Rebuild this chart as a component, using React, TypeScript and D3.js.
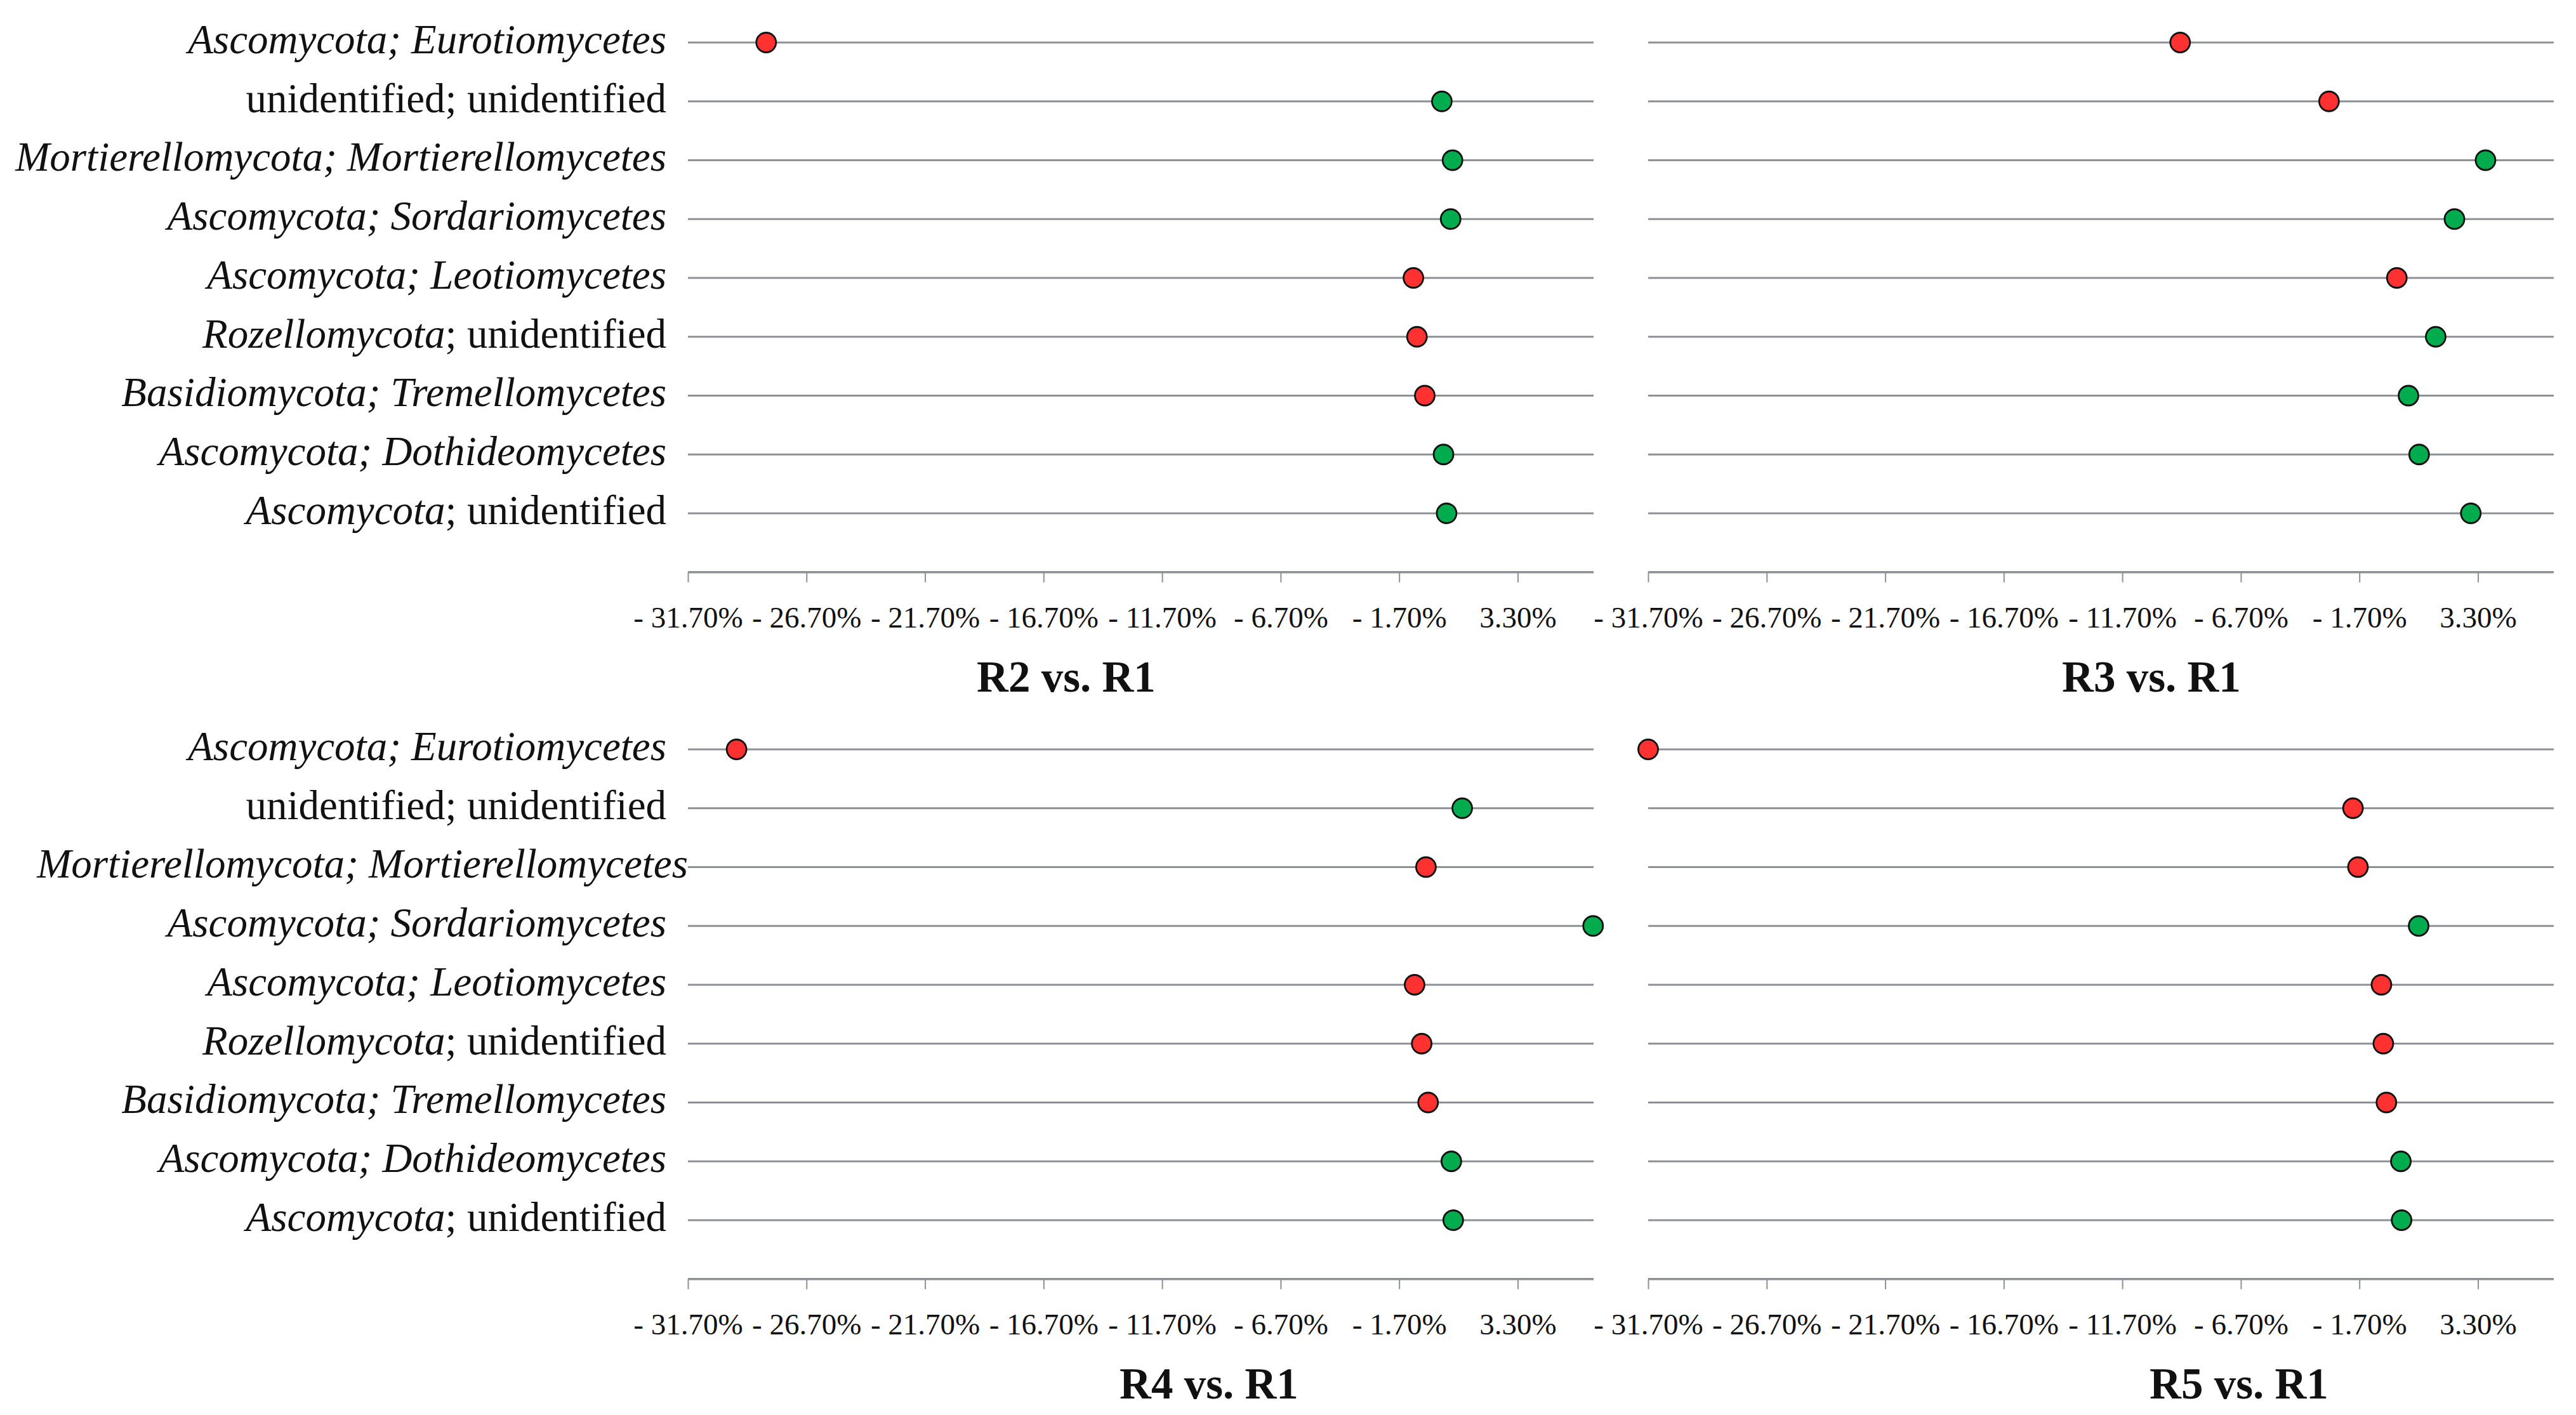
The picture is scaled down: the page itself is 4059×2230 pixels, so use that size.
import { useEffect, useRef } from 'react';
import * as d3 from 'd3';

// taxa, top to bottom
const categories = [
  'Ascomycota; Eurotiomycetes',
  'unidentified; unidentified',
  'Mortierellomycota; Mortierellomycetes',
  'Ascomycota; Sordariomycetes',
  'Ascomycota; Leotiomycetes',
  'Rozellomycota; unidentified',
  'Basidiomycota; Tremellomycetes',
  'Ascomycota; Dothideomycetes',
  'Ascomycota; unidentified',
];
// which half of "phylum; class" is set in italics
const italicPhylum = [true, false, true, true, true, true, true, true, true];
const italicClass = [true, false, true, true, true, false, true, true, false];

// relative change (%) vs R1
const r2vsR1 = [-28.4, 0.1, 0.55, 0.47, -1.1, -0.95, -0.62, 0.17, 0.3];
const r3vsR1 = [-9.26, -2.98, 3.62, 2.31, -0.12, 1.52, 0.37, 0.82, 3.0];
const r4vsR1 = [-29.65, 0.96, -0.57, 6.48, -1.05, -0.75, -0.48, 0.5, 0.58];
const r5vsR1 = [-31.7, -1.97, -1.76, 0.8, -0.77, -0.69, -0.56, 0.05, 0.08];

const tickValues = [-31.7, -26.7, -21.7, -16.7, -11.7, -6.7, -1.7, 3.3];
const tickLabels = ['- 31.70%', '- 26.70%', '- 21.70%', '- 16.70%', '- 11.70%', '- 6.70%', '- 1.70%', '3.30%'];
const xDomain: [number, number] = [-31.7, 6.5];

const W = 4059;
const H = 2230;
const SERIF = '"Liberation Serif", "Times New Roman", serif';
const GRID = '#8d9095';
const RED = '#ff3131';
const GREEN = '#00ac4e';

const panels = [
  { title: 'R2 vs. R1', values: r2vsR1, x0: 1084, x1: 2511, top: 67, titleX: 1680, labels: true, labelShift: 0 },
  { title: 'R3 vs. R1', values: r3vsR1, x0: 2597, x1: 4024, top: 67, titleX: 3390, labels: false, labelShift: 0 },
  { title: 'R4 vs. R1', values: r4vsR1, x0: 1084, x1: 2511, top: 1181, titleX: 1905, labels: true, labelShift: 1 },
  { title: 'R5 vs. R1', values: r5vsR1, x0: 2597, x1: 4024, top: 1181, titleX: 3528, labels: false, labelShift: 0 },
];

export default function App() {
  const svgRef = useRef<SVGSVGElement>(null);

  useEffect(() => {
    if (!svgRef.current) return;
    const svg = d3.select(svgRef.current);
    svg.selectAll('*').remove();

    panels.forEach((p) => {
      const x = d3.scaleLinear().domain(xDomain).range([p.x0, p.x1]);
      const y = d3.scalePoint<string>().domain(categories).range([p.top, p.top + 742]);
      const step = y.step();
      const axisY = p.top + 742 + step;

      const g = svg.append('g');

      // grid lines per category
      g.selectAll('line.row')
        .data(categories)
        .join('line')
        .attr('class', 'row')
        .attr('x1', p.x0)
        .attr('x2', p.x1)
        .attr('y1', (d) => y(d)!)
        .attr('y2', (d) => y(d)!)
        .attr('stroke', GRID)
        .attr('stroke-width', 3);

      // x axis
      const axis = d3
        .axisBottom(x)
        .tickValues(tickValues)
        .tickFormat((_, i) => tickLabels[i])
        .tickSize(16)
        .tickSizeOuter(0)
        .tickPadding(38);
      const ax = g.append('g').attr('transform', `translate(0,${axisY})`).call(axis);
      ax.select('.domain').attr('stroke', GRID).attr('stroke-width', 3.5).attr('d', `M${p.x0},0H${p.x1}`);
      ax.selectAll('.tick line').attr('stroke', GRID).attr('stroke-width', 2);
      ax.selectAll('.tick text')
        .attr('fill', '#111')
        .attr('font-family', SERIF)
        .attr('font-size', 47);

      // dots
      g.selectAll('circle')
        .data(p.values)
        .join('circle')
        .attr('cx', (d) => x(d))
        .attr('cy', (_, i) => y(categories[i])!)
        .attr('r', 15.5)
        .attr('fill', (d) => (d >= 0 ? GREEN : RED))
        .attr('stroke', '#111')
        .attr('stroke-width', 2.8);

      // category labels
      if (p.labels) {
        const lab = g.selectAll('text.cat')
          .data(categories)
          .join('text')
          .attr('class', 'cat')
          .attr('x', (_, i) => (p.labelShift && i === 2 ? 1084 : 1050))
          .attr('y', (d) => y(d)!)
          .attr('dy', '0.26em')
          .attr('text-anchor', 'end')
          .attr('font-family', SERIF)
          .attr('font-size', 65)
          .attr('fill', '#111');
        lab.each(function (d, i) {
          const [a, b] = d.split('; ');
          const t = d3.select(this);
          t.append('tspan').attr('font-style', italicPhylum[i] ? 'italic' : 'normal').text(a);
          t.append('tspan').attr('font-style', italicClass[i] ? 'italic' : 'normal').text('; ');
          t.append('tspan').attr('font-style', italicClass[i] ? 'italic' : 'normal').text(b);
        });
      }

      // panel title
      g.append('text')
        .attr('x', p.titleX)
        .attr('y', axisY + 188)
        .attr('text-anchor', 'middle')
        .attr('font-family', SERIF)
        .attr('font-size', 69)
        .attr('font-weight', 700)
        .attr('fill', '#111')
        .text(p.title);
    });
  }, []);

  return (
    <div style={{ position: 'absolute', left: 0, top: 0, width: W, height: H, background: '#fff' }}>
      <svg ref={svgRef} width={W} height={H} style={{ display: 'block' }} />
    </div>
  );
}
